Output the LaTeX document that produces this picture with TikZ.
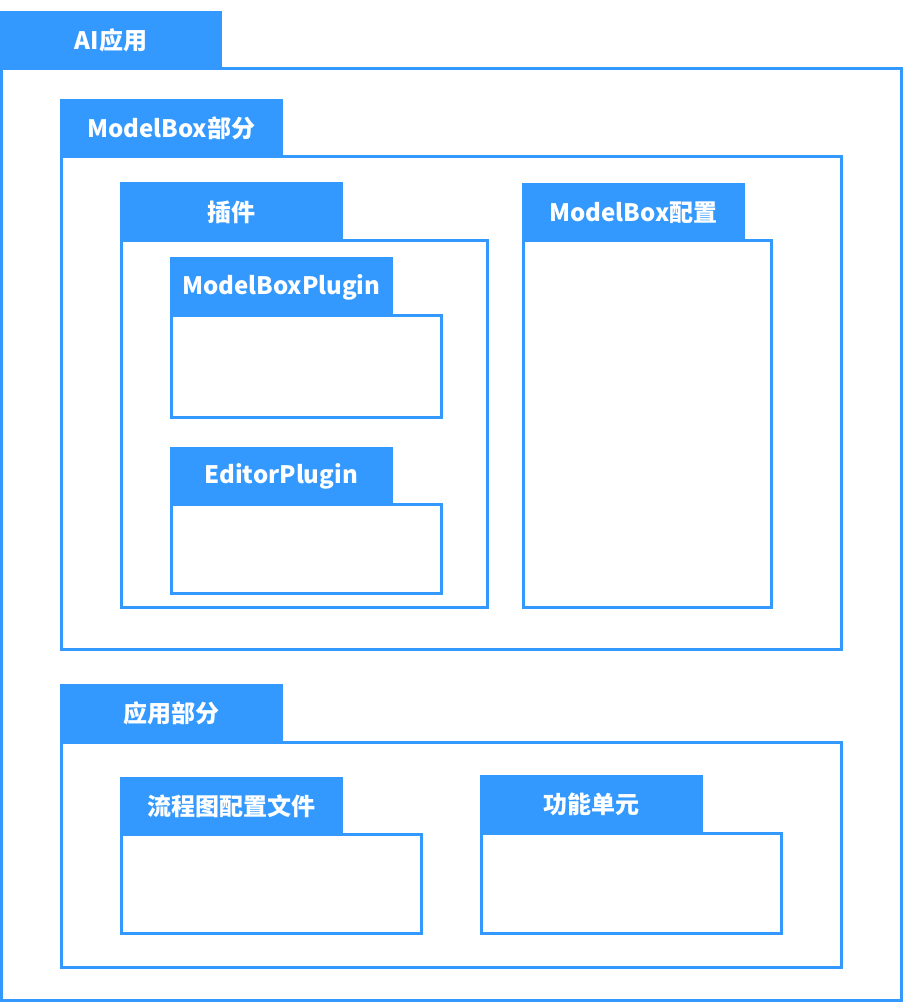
\documentclass[tikz,border=0pt]{standalone}
\usepackage{fontspec}
\newfontfamily\lab{Noto Sans CJK SC}
\definecolor{pkgblue}{RGB}{51,153,255}
\tikzset{
  pkgbody/.style={draw=pkgblue, line width=3pt, fill=white, inner sep=0pt, outer sep=0pt, anchor=north west},
  pkgtab/.style={fill=pkgblue, draw=none, inner sep=0pt, outer sep=0pt, anchor=north west,
    text=white, font=\lab\bfseries\fontsize{24}{26}\selectfont}
}
% name, left, tab top, tab right, body top, body right, body bottom, label
\newcommand{\umlpkg}[8]{%
  \node[pkgbody, minimum width={(#6-#2-1.5)*1pt}, minimum height={(#7-#5)*1pt}] (#1) at (#2+1.5,#5) {};
  \node[pkgtab, minimum width={(#4-#2)*1pt}, minimum height={(#5-#3+1.5)*1pt}] (#1-tab) at (#2,#3) {\raisebox{-1.5pt}{#8}};
}
\begin{document}
\begin{tikzpicture}[x=1pt,y=-1pt]
\useasboundingbox (0,0) rectangle (904,1003);
\umlpkg{ai}{0}{11}{222}{68.5}{901.5}{1000.5}{AI应用}
\umlpkg{mb}{60}{99}{282.5}{157}{841.5}{649.5}{ModelBox部分}
\umlpkg{plugins}{120}{182}{342.5}{240.5}{487.5}{607.5}{插件}
\umlpkg{mbp}{170}{257}{392.5}{315.5}{441}{417.5}{ModelBoxPlugin}
\umlpkg{editor}{170}{447}{392.5}{504}{441}{593}{EditorPlugin}
\umlpkg{cfg}{522}{183}{745}{240.5}{771}{607.5}{ModelBox配置}
\umlpkg{app}{60}{684}{282.5}{742}{841.5}{967.5}{应用部分}
\umlpkg{flow}{120}{777}{342.5}{834}{421}{933.5}{流程图配置文件}
\umlpkg{func}{480}{775}{702.5}{833}{781.5}{933.5}{功能单元}
\end{tikzpicture}
\end{document}
